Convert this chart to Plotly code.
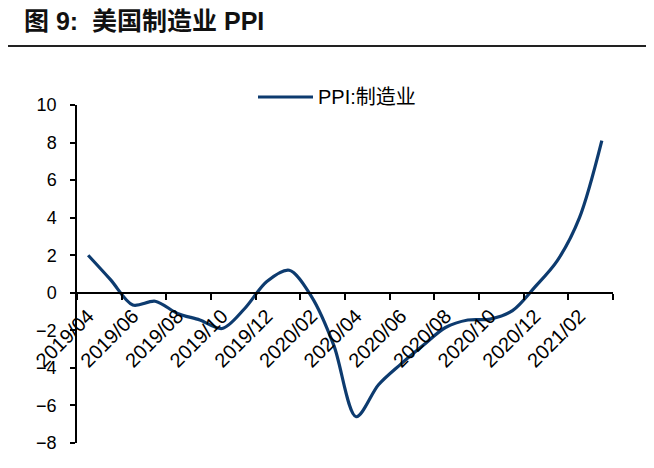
import plotly.graph_objects as go

months = ["2019/04", "2019/05", "2019/06", "2019/07", "2019/08", "2019/09", "2019/10",
          "2019/11", "2019/12", "2020/01", "2020/02", "2020/03", "2020/04", "2020/05",
          "2020/06", "2020/07", "2020/08", "2020/09", "2020/10", "2020/11", "2020/12",
          "2021/01", "2021/02", "2021/03"]
ppi_manufacturing = [2.0, 0.7, -0.65, -0.45, -1.1, -1.45, -1.9, -0.85, 0.6, 1.2, -0.2, -2.8,
                     -6.6, -4.9, -3.8, -2.8, -1.85, -1.45, -1.4, -0.95, 0.3, 1.7, 4.0, 8.1]
y_ticks = [-8, -6, -4, -2, 0, 2, 4, 6, 8, 10]
series_name = "PPI:制造业"
title_text = "<b>图 9:\u00a0\u00a0美国制造业 PPI</b>"

idx = list(range(len(months)))
label_idx = idx[::2]
label_text = [months[i] for i in label_idx]
boundaries = [i - 0.5 for i in range(0, len(months) + 1, 2)]

LINE_COLOR = "#0D3B6F"
y_min, y_max = -8, 10

# the page body adds an 8px offset, so the figure is drawn 8px smaller
OFF = 8
W, H = 654 - OFF, 468 - OFF
ml, mr, mt, mb = 69, 41, 97, 25
pw = W - ml - mr
ph = H - mt - mb

def px_to_paper_x(px_ref):
    return (px_ref - OFF - ml) / pw

def px_to_paper_y(py_ref):
    return (H - mb - (py_ref - OFF)) / ph

FONT = "Liberation Sans, Arial, Noto Sans CJK SC"

fig = go.Figure()
fig.add_trace(go.Scatter(
    x=idx, y=ppi_manufacturing, mode="lines", name=series_name,
    line=dict(color=LINE_COLOR, width=3.2, shape="spline", smoothing=0.9),
    showlegend=False,
))

fig.update_layout(
    width=W, height=H,
    margin=dict(l=ml, r=mr, t=mt, b=mb, autoexpand=False),
    paper_bgcolor="white", plot_bgcolor="white",
    font=dict(family=FONT, size=18, color="#000000"),
    xaxis=dict(
        range=[-0.5, len(months) - 0.5],
        tickmode="array", tickvals=label_idx, ticktext=label_text,
        tickangle=-45, ticks="", showgrid=False, zeroline=False,
        showline=True, linecolor="#000000", linewidth=1.5,
        anchor="free", position=(0 - y_min) / (y_max - y_min),
        ticklabelstandoff=3, automargin=False,
        tickfont=dict(size=20, color="#000000"),
        minor=dict(tickmode="array", tickvals=boundaries, ticks="outside",
                   ticklen=6, tickwidth=1.5, tickcolor="#000000", showgrid=False),
    ),
    yaxis=dict(
        range=[y_min, y_max], tickmode="array", tickvals=y_ticks,
        ticks="outside", ticklen=5, tickwidth=1.5, tickcolor="#000000",
        showline=True, linecolor="#000000", linewidth=1.5,
        showgrid=False, zeroline=False, ticklabelstandoff=10, automargin=False,
        tickfont=dict(size=18, color="#000000"),
    ),
)

# Title
fig.add_annotation(
    xref="paper", yref="paper", x=px_to_paper_x(22), y=px_to_paper_y(21),
    xanchor="left", yanchor="middle", showarrow=False, text=title_text,
    font=dict(family=FONT, size=25, color="#111111"),
)
# Title rule
fig.add_shape(type="line", xref="paper", yref="paper",
              x0=px_to_paper_x(5), x1=px_to_paper_x(648),
              y0=px_to_paper_y(46), y1=px_to_paper_y(46),
              line=dict(color="#222222", width=2))

# Legend
fig.add_shape(type="line", xref="paper", yref="paper",
              x0=px_to_paper_x(258), x1=px_to_paper_x(313),
              y0=px_to_paper_y(97), y1=px_to_paper_y(97),
              line=dict(color=LINE_COLOR, width=3.2))
fig.add_annotation(
    xref="paper", yref="paper", x=px_to_paper_x(316), y=px_to_paper_y(97),
    xanchor="left", yanchor="middle", showarrow=False, text=series_name,
    font=dict(family=FONT, size=20, color="#000000"),
)

fig.write_html("out.html")
